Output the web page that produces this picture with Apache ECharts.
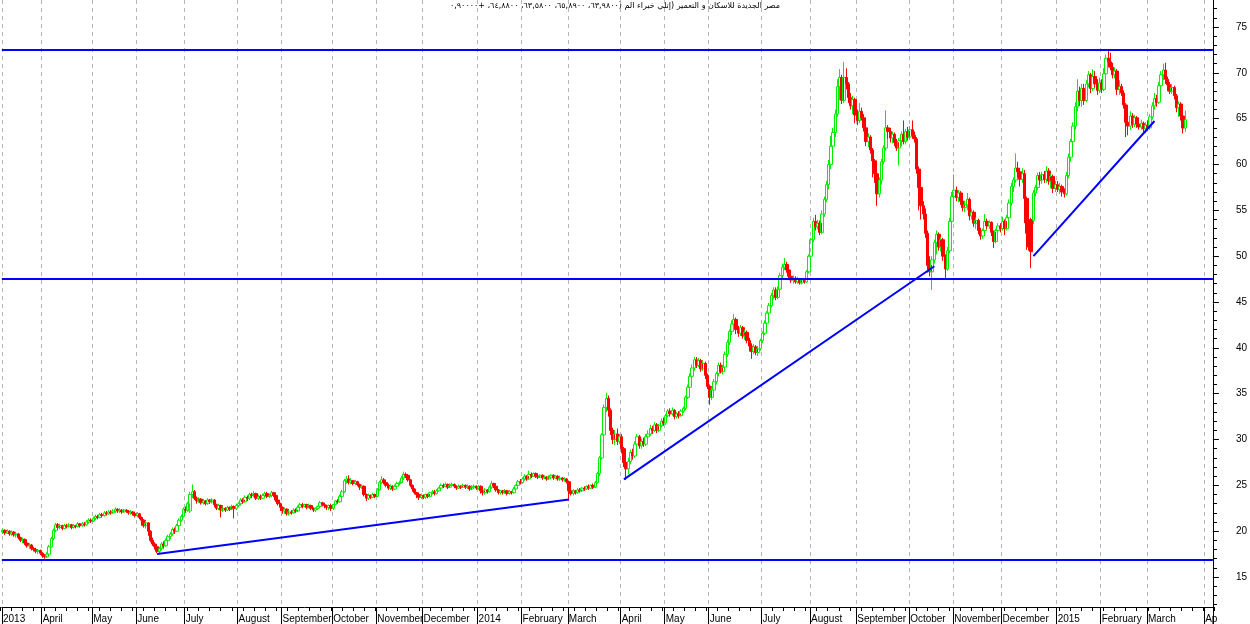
<!DOCTYPE html>
<html><head><meta charset="utf-8">
<script src="https://cdn.jsdelivr.net/npm/echarts@6/dist/echarts.min.js"></script>
<style>html,body{margin:0;padding:0;background:#fff}#c{width:1250px;height:624px}</style>
</head><body><div id="c"></div>
<script>
// ---- DATA: daily candles per month, each row [open, close, low, high] ----
const m1303=[[19.9,20.1,19.7,20.3],[20.1,19.8,19.6,20.2],[19.8,20.0,19.7,20.2],[20.0,19.7,19.5,20.1],[19.7,19.9,19.5,20.1],[19.9,19.6,19.4,20.0],[19.6,19.7,19.3,19.9],[19.7,19.3,19.1,19.8],[19.3,19.0,18.8,19.4],[19.0,19.1,18.7,19.3],[19.1,18.7,18.5,19.2],[18.7,18.4,18.2,18.8],[18.4,18.5,18.1,18.7],[18.5,18.1,17.9,18.6],[18.1,18.0,17.8,18.3],[18.0,17.8,17.6,18.2],[17.8,17.9,17.5,18.0],[17.9,17.6,17.4,18.0]];
const m1304=[[17.6,17.3,17.1,17.7],[17.3,17.2,17.0,17.5],[17.2,17.5,17.1,17.7],[17.5,18.3,17.4,18.5],[18.3,19.2,18.2,19.4],[19.2,20.1,19.0,20.3],[20.1,20.7,19.9,20.9],[20.7,20.4,20.2,20.9],[20.4,20.6,20.2,20.8],[20.6,20.3,20.1,20.7],[20.3,20.6,20.2,20.8],[20.6,20.5,20.3,20.8],[20.5,20.7,20.4,20.9],[20.7,20.4,20.2,20.8],[20.4,20.6,20.3,20.8],[20.6,20.5,20.3,20.7],[20.5,20.8,20.4,21.0],[20.8,20.6,20.4,20.9],[20.6,20.8,20.5,21.0],[20.8,20.7,20.5,21.0],[20.7,21.0,20.6,21.2],[21.0,21.2,20.8,21.4],[21.2,21.1,20.9,21.4]];
const m1305=[[21.1,21.4,21.0,21.6],[21.4,21.6,21.2,21.8],[21.6,21.5,21.3,21.8],[21.5,21.8,21.4,22.0],[21.8,21.7,21.5,22.0],[21.7,22.0,21.6,22.2],[22.0,21.9,21.7,22.2],[21.9,22.1,21.8,22.3],[22.1,22.0,21.8,22.3],[22.0,22.2,21.9,22.4],[22.2,22.4,22.0,22.6],[22.4,22.2,22.0,22.5],[22.2,22.3,22.0,22.5],[22.3,22.1,21.9,22.4],[22.1,22.3,22.0,22.4],[22.3,22.2,22.0,22.4],[22.2,22.0,21.8,22.3],[22.0,22.1,21.8,22.3],[22.1,21.9,21.7,22.2],[21.9,21.7,21.5,22.0]];
const m1306=[[21.7,21.9,21.5,22.1],[21.9,21.5,21.3,22.0],[21.5,21.2,20.6,21.6],[21.2,20.6,20.4,21.3],[20.6,20.9,20.3,21.1],[20.9,20.0,19.5,21.0],[20.0,19.0,18.8,20.1],[19.0,18.6,18.4,19.3],[18.6,18.3,18.0,18.8],[18.3,17.8,17.6,18.4],[17.8,18.1,17.6,18.3],[18.1,18.6,17.9,18.8],[18.6,18.4,18.1,18.9],[18.4,19.0,18.3,19.2],[19.0,19.4,18.8,19.6],[19.4,19.7,19.1,19.9],[19.7,20.2,19.5,20.4],[20.2,20.0,19.7,20.4],[20.0,20.6,19.9,20.8],[20.6,21.2,20.4,21.4],[21.2,21.6,21.0,21.8],[21.6,22.4,21.5,22.6]];
const m1307=[[22.4,22.3,22.0,22.7],[22.3,23.0,22.1,23.2],[22.2,24.0,22.0,24.3],[24.0,24.3,23.6,25.1],[24.3,23.6,23.4,24.5],[23.6,23.3,23.0,23.8],[23.3,23.5,23.1,23.7],[23.5,23.1,22.9,23.6],[23.1,23.3,22.9,23.5],[23.3,23.0,22.8,23.4],[23.0,23.4,22.9,23.6],[23.4,23.2,23.0,23.5],[23.2,23.4,23.0,23.6],[23.4,22.9,22.6,23.5],[22.9,22.5,22.3,23.0],[22.5,22.8,22.3,23.0],[22.8,22.3,21.5,22.9],[22.3,22.5,22.1,22.7],[22.5,22.3,22.1,22.6],[22.3,22.6,22.2,22.8],[22.6,22.4,22.2,22.7],[22.4,22.7,22.3,22.9],[22.7,22.5,21.4,22.8],[22.5,22.8,22.3,23.0]];
const m1308=[[22.8,23.0,22.6,23.2],[23.0,23.4,22.8,23.6],[23.4,23.2,23.0,23.6],[23.2,23.7,23.1,23.9],[23.7,23.6,23.3,23.9],[23.6,24.0,23.4,24.2],[24.0,23.9,23.6,24.2],[23.9,24.1,23.7,24.4],[24.1,23.6,23.4,24.2],[23.6,23.8,23.4,24.0],[23.8,23.6,23.4,24.0],[23.6,23.9,23.5,24.1],[23.9,24.1,23.7,24.3],[24.1,23.8,23.6,24.3],[23.8,23.9,23.6,24.1],[23.9,24.2,23.7,24.4],[24.2,23.9,23.7,24.3],[23.9,23.4,23.2,24.0],[23.4,23.0,22.8,23.5],[23.0,22.6,22.2,23.1]];
const m1309=[[22.6,22.2,21.9,22.7],[22.2,22.4,21.9,22.6],[22.4,21.9,21.7,22.5],[21.9,22.1,21.7,22.3],[22.1,22.0,21.8,22.3],[22.0,22.3,21.9,22.5],[22.3,22.2,22.0,22.5],[22.2,22.6,22.1,22.8],[22.6,22.9,22.4,23.1],[22.9,22.7,22.5,23.1],[22.7,22.9,22.6,23.0],[22.9,22.6,22.4,23.0],[22.6,22.8,22.5,23.0],[22.8,22.5,22.3,22.9],[22.5,22.3,22.1,22.6],[22.3,22.5,22.1,22.6],[22.5,22.7,22.3,22.8],[22.7,23.1,22.6,23.3],[23.1,22.9,22.7,23.2],[22.9,22.8,22.5,23.1],[22.8,22.6,22.3,22.9],[22.6,22.8,22.3,22.9],[22.8,22.5,22.2,23.0]];
const m1310=[[22.5,22.9,22.3,23.0],[22.9,23.3,22.8,23.4],[23.3,23.2,23.0,23.5],[23.2,23.8,23.1,24.0],[23.8,24.3,23.6,24.5],[24.3,25.5,24.2,25.7],[25.5,25.7,25.2,26.0],[25.7,25.3,25.1,26.1],[25.3,25.5,25.1,25.8],[25.5,25.2,25.0,25.6],[25.2,25.4,25.0,25.6],[25.4,25.1,24.9,25.5],[25.1,24.8,24.5,25.2],[24.8,24.9,24.6,25.1],[24.9,24.0,23.8,25.0],[24.0,23.6,23.3,24.1],[23.6,23.9,23.4,24.1],[23.9,23.7,23.5,24.0],[23.7,24.0,23.6,24.2],[24.0,23.8,23.6,24.1]];
const m1311=[[23.8,24.5,23.7,24.7],[24.5,25.3,24.4,25.5],[25.3,25.6,25.1,26.0],[25.6,25.3,25.1,25.8],[25.3,25.0,24.8,25.4],[25.0,24.7,24.5,25.2],[24.7,24.9,24.5,25.1],[24.9,24.6,24.4,25.0],[24.6,24.9,24.5,25.1],[24.9,25.2,24.8,25.4],[25.2,25.3,25.0,25.5],[25.3,25.8,25.2,26.0],[25.8,26.2,25.6,26.5],[26.2,26.1,25.8,26.4],[26.1,25.6,25.4,26.2],[25.6,25.0,24.8,25.7],[25.0,24.6,24.3,25.1],[24.6,24.2,24.0,24.7],[24.2,24.0,23.6,24.3],[24.0,23.7,23.4,24.1],[23.7,23.9,23.5,24.1]];
const m1312=[[23.9,23.7,23.5,24.0],[23.7,24.0,23.5,24.1],[24.0,23.8,23.6,24.1],[23.8,24.2,23.7,24.3],[24.2,24.3,24.0,24.5],[24.3,24.1,23.9,24.5],[24.1,24.4,24.0,24.6],[24.4,24.7,24.3,24.8],[24.7,25.0,24.5,25.2],[25.0,24.9,24.7,25.2],[24.9,25.1,24.8,25.3],[25.1,24.8,24.6,25.2],[24.8,25.0,24.7,25.2],[25.0,25.1,24.8,25.3],[25.1,24.9,24.7,25.2],[24.9,24.7,24.5,25.0],[24.7,24.9,24.6,25.1],[24.9,24.8,24.6,25.0],[24.8,25.0,24.7,25.2],[25.0,24.8,24.6,25.1],[24.8,24.9,24.6,25.1],[24.9,24.6,24.4,25.0],[24.6,24.8,24.5,25.0],[24.8,24.9,24.6,25.1],[24.9,24.7,24.5,25.0]];
const m1401=[[24.7,24.9,24.5,25.0],[24.9,24.4,24.1,25.0],[24.4,24.2,23.9,24.5],[24.2,24.5,24.0,24.7],[24.5,24.3,24.1,24.6],[24.3,24.8,24.2,25.0],[24.8,25.2,24.6,25.5],[25.2,24.9,24.7,25.3],[24.9,24.5,24.3,25.0],[24.5,24.2,24.0,24.6],[24.2,24.4,24.0,24.5],[24.4,24.2,24.0,24.5],[24.2,24.4,24.1,24.6],[24.4,24.1,23.9,24.5],[24.1,24.3,24.0,24.5],[24.3,24.2,24.0,24.4],[24.2,24.6,24.1,24.8],[24.6,25.0,24.5,25.1],[25.0,25.4,24.9,25.6],[25.4,25.3,25.1,25.7]];
const m1402=[[25.3,25.7,25.2,25.9],[25.7,26.0,25.5,26.2],[26.0,25.7,25.5,26.1],[25.7,26.2,25.6,26.6],[26.2,26.0,25.8,26.4],[26.0,26.3,25.9,26.4],[26.3,26.0,25.8,26.4],[26.0,25.9,25.7,26.2],[25.9,26.1,25.8,26.2],[26.1,25.8,25.6,26.2],[25.8,25.9,25.7,26.1],[25.9,25.7,25.5,26.0],[25.7,25.9,25.6,26.1],[25.9,26.1,25.8,26.2],[26.1,25.8,25.6,26.2],[25.8,26.0,25.7,26.1],[26.0,25.7,25.5,26.1],[25.7,25.8,25.5,26.0],[25.8,25.6,25.4,25.9],[25.6,25.7,25.4,25.9],[25.7,25.4,25.2,25.8]];
const m1403=[[25.4,24.4,23.3,25.5],[24.4,24.1,23.9,24.6],[24.1,24.4,23.9,24.6],[24.4,24.2,24.0,24.5],[24.2,24.5,24.1,24.7],[24.5,24.4,24.2,24.7],[24.4,24.7,24.3,24.8],[24.7,24.6,24.4,24.9],[24.6,24.9,24.5,25.0],[24.9,24.7,24.5,25.1],[24.7,25.0,24.6,25.1],[25.0,24.8,24.6,25.2],[24.8,25.3,24.7,25.5],[25.3,26.3,25.2,26.5],[26.3,28.0,26.0,28.2],[28.0,30.5,27.8,30.7],[30.5,33.5,30.3,33.8],[33.5,34.5,33.0,35.1],[34.5,33.2,32.5,34.8],[33.2,31.0,30.5,33.4],[31.0,30.0,29.5,31.3],[30.0,30.6,29.4,31.0],[30.6,29.8,29.4,31.2],[29.8,30.3,29.5,30.6]];
const m1404=[[30.3,29.0,28.5,30.6],[29.0,27.5,27.0,29.2],[27.5,26.8,25.6,27.8],[26.8,27.6,26.2,28.0],[27.6,28.6,27.3,28.9],[28.6,28.2,27.8,29.0],[28.2,29.5,28.0,29.8],[29.5,30.3,29.2,30.6],[30.3,29.3,29.0,30.5],[29.3,29.8,29.0,30.1],[29.8,29.5,29.2,30.2],[29.5,30.3,29.3,30.6],[30.3,30.6,30.0,31.0],[30.6,31.2,30.4,31.6],[31.2,31.0,30.6,31.5],[31.0,31.6,30.8,31.9],[31.6,31.0,30.7,31.8],[31.0,31.5,30.8,31.7],[31.5,32.0,31.3,32.3],[32.0,31.8,31.5,32.4]];
const m1405=[[31.8,32.6,31.6,32.8],[32.6,33.1,32.4,33.3],[33.1,32.8,32.5,33.4],[32.8,33.2,32.6,33.5],[33.2,32.5,32.2,33.3],[32.5,32.8,32.3,33.0],[32.8,32.6,32.3,33.1],[32.6,33.1,32.5,33.3],[33.1,33.4,32.9,33.6],[33.4,34.6,33.2,34.8],[34.6,35.7,34.4,36.0],[35.7,36.9,35.5,37.2],[36.9,37.8,36.6,38.2],[37.8,38.7,37.5,39.0],[38.7,38.1,37.8,39.0],[38.1,38.6,37.9,38.9],[38.6,37.7,37.4,38.8],[37.7,38.3,37.5,38.6],[38.3,37.0,36.6,38.5],[37.0,35.8,35.5,37.2]];
const m1406=[[35.8,34.6,33.8,36.0],[34.6,35.4,34.3,35.7],[35.4,36.3,35.1,36.6],[36.3,37.2,36.0,37.4],[37.2,38.1,36.9,38.4],[38.1,37.4,37.2,38.4],[37.4,37.9,37.1,38.1],[37.9,39.3,37.7,39.6],[39.3,40.6,39.0,40.9],[40.6,41.8,40.3,42.0],[41.8,42.6,41.4,43.0],[42.6,43.1,42.0,43.7],[43.1,42.0,41.5,43.3],[42.0,41.6,41.2,42.4],[41.6,42.2,41.3,42.5],[42.2,41.3,41.0,42.4],[41.3,41.7,40.9,42.0],[41.7,40.8,40.5,41.9],[40.8,40.2,39.6,41.1],[40.2,39.6,38.8,40.5],[39.6,40.1,39.3,40.4],[40.1,39.5,39.2,40.3],[39.5,39.9,39.1,40.2],[39.9,40.8,39.7,41.0]];
const m1407=[[40.8,41.6,40.5,41.8],[41.6,42.7,41.4,43.0],[42.7,43.8,42.4,44.0],[43.8,44.6,43.5,44.9],[44.6,45.7,44.4,46.0],[45.7,46.3,45.3,46.6],[46.3,45.5,45.2,46.6],[45.5,46.4,45.3,46.7],[46.4,47.9,46.2,48.2],[47.9,48.8,47.6,49.2],[48.8,49.1,48.5,49.8],[49.1,48.5,48.2,49.4],[48.5,47.8,47.5,48.8],[47.8,47.4,47.1,48.0],[47.4,47.6,47.0,47.9],[47.6,47.2,47.0,47.8],[47.2,47.5,47.0,47.7],[47.5,47.1,46.9,47.6],[47.1,47.4,46.9,47.6],[47.4,47.2,47.0,47.6],[47.2,48.3,47.1,48.5],[48.3,50.0,48.1,50.2]];
const m1408=[[50.0,51.8,49.8,52.0],[51.8,53.8,51.5,54.2],[53.8,53.2,52.8,54.5],[53.2,53.6,52.9,54.0],[53.6,52.6,52.3,53.9],[52.6,54.6,52.4,55.0],[54.6,56.2,54.3,56.5],[56.2,57.8,55.9,58.2],[57.8,60.0,57.3,60.5],[60.0,62.0,59.5,63.1],[62.0,63.5,61.5,64.0],[63.5,65.5,63.0,66.0],[65.5,68.5,65.2,69.3],[68.5,69.5,67.0,70.4],[69.5,67.0,66.6,69.8],[67.0,69.5,66.7,71.2],[69.5,68.8,68.2,70.5],[68.8,67.3,66.7,69.0],[67.3,66.4,66.0,67.8],[66.4,67.1,65.5,67.5],[67.1,65.4,64.5,67.3]];
const m1409=[[65.4,64.8,64.3,66.0],[64.8,65.8,64.5,66.7],[65.8,65.1,64.8,66.2],[65.1,64.0,63.6,65.5],[64.0,62.5,62.0,64.2],[62.5,63.0,61.9,63.4],[63.0,61.6,61.2,63.2],[61.6,60.4,58.6,61.8],[60.4,59.0,58.0,60.6],[59.0,56.8,55.5,59.2],[56.8,58.3,56.4,58.6],[58.3,60.3,57.8,60.6],[60.3,61.8,60.0,62.1],[61.8,64.0,61.5,65.9],[64.0,63.6,62.8,64.3],[63.6,62.9,62.4,64.0],[62.9,63.3,62.3,63.6],[63.3,62.4,62.0,63.5],[62.4,61.8,61.5,62.8],[61.8,62.6,59.9,62.9],[62.6,63.3,62.0,63.6],[63.3,62.5,62.2,64.8],[62.5,63.6,62.2,63.9],[63.6,63.0,62.6,64.1]];
const m1410=[[63.0,63.8,62.8,64.2],[63.8,63.2,62.8,64.8],[63.2,62.8,62.4,63.6],[62.8,59.5,59.0,63.0],[59.5,57.5,55.0,59.8],[57.5,55.5,54.0,57.8],[55.5,54.6,54.0,56.0],[54.6,52.5,52.0,55.2],[52.5,49.0,48.2,52.8],[49.0,48.3,47.8,50.0],[48.3,49.6,46.3,50.0],[49.6,51.5,49.2,51.8],[51.5,52.4,50.2,52.8],[52.4,51.0,50.6,52.6],[51.0,51.8,50.5,52.1],[51.8,50.0,49.5,52.0],[50.0,48.6,47.5,50.2],[48.6,50.6,48.4,51.0],[50.6,53.8,50.3,54.2],[53.8,56.5,53.5,57.0]];
const m1411=[[56.5,57.2,56.0,58.9],[57.2,56.4,56.0,57.6],[56.4,56.9,55.9,57.2],[56.9,56.0,55.6,57.1],[56.0,55.3,54.9,56.3],[55.3,55.6,54.8,56.0],[55.6,56.2,55.0,56.9],[56.2,54.4,53.9,56.4],[54.4,54.8,54.0,55.2],[54.8,53.6,53.2,55.0],[53.6,53.9,53.0,54.2],[53.9,52.8,52.4,54.1],[52.8,52.2,51.8,53.1],[52.2,52.8,51.9,53.0],[52.8,53.8,52.6,54.6],[53.8,53.3,53.0,54.1],[53.3,53.7,53.0,53.9],[53.7,52.6,52.2,53.8],[52.6,51.6,50.9,52.8],[51.6,52.8,51.4,53.0],[52.8,53.3,52.5,53.6],[53.3,53.0,52.6,53.6]];
const m1412=[[53.0,53.8,52.8,54.3],[53.8,53.0,52.3,54.0],[53.0,54.2,52.8,54.5],[54.2,55.8,53.8,56.2],[55.8,57.6,55.5,58.0],[57.6,58.3,57.0,58.6],[58.3,59.6,58.0,61.2],[59.6,59.2,58.6,60.3],[59.2,58.4,57.6,59.6],[58.4,59.0,58.0,59.6],[59.0,56.3,53.6,59.4],[56.3,52.5,50.7,56.5],[52.5,51.0,50.6,54.0],[54.0,50.5,48.7,54.2],[53.9,56.9,53.5,57.2],[56.9,57.5,56.5,57.8],[57.5,58.8,57.2,59.1],[58.8,58.3,57.8,59.2],[58.3,58.9,57.9,59.2],[58.9,58.4,58.0,59.3],[58.4,59.3,58.0,59.8],[59.3,58.2,57.8,59.6],[58.2,58.7,57.4,59.0],[58.7,57.4,56.9,58.9],[57.4,57.8,57.0,58.2]];
const m1501=[[57.8,57.3,57.0,58.2],[57.3,57.6,56.8,58.0],[57.6,57.0,56.5,57.8],[57.0,56.8,56.4,57.4],[56.8,58.8,56.6,59.2],[58.8,60.8,58.5,61.2],[60.8,62.5,60.3,62.8],[62.5,64.2,62.0,64.6],[64.2,66.3,63.8,66.8],[66.3,68.0,65.8,69.3],[68.0,67.0,66.4,68.5],[67.0,68.3,66.3,68.8],[68.3,67.0,66.5,68.8],[67.0,68.8,66.8,69.2],[68.8,69.8,68.4,70.2],[69.8,68.3,67.8,70.0],[68.3,69.6,68.0,70.4],[69.6,68.8,68.4,70.2],[68.8,68.1,67.6,69.3],[68.1,68.9,67.8,69.5]];
const m1502=[[68.9,68.2,67.8,69.3],[68.2,69.9,68.0,70.5],[69.9,71.6,69.6,72.0],[71.6,71.2,70.6,72.6],[71.2,70.6,70.3,72.2],[70.6,69.8,69.4,71.1],[69.8,70.2,69.4,70.6],[70.2,68.2,67.6,70.4],[68.2,68.5,67.6,69.2],[68.5,67.8,67.5,68.8],[67.8,66.5,66.1,68.1],[66.5,64.6,63.0,66.7],[64.6,64.2,63.2,65.4],[64.2,65.3,63.8,65.8],[65.3,64.4,64.0,65.6],[64.4,65.1,64.1,65.4],[65.1,64.4,64.0,65.3],[64.4,64.1,63.8,64.8],[64.1,64.5,63.8,64.9],[64.5,63.9,63.5,64.7],[63.9,64.3,63.4,64.6]];
const m1503=[[64.3,64.0,63.7,64.8],[64.0,65.2,63.8,65.5],[65.2,66.4,64.9,66.8],[66.4,67.2,66.0,67.8],[67.2,66.8,66.3,67.6],[66.8,68.6,66.6,69.0],[68.6,69.8,68.3,70.2],[69.8,70.3,69.2,71.0],[70.3,69.3,68.8,71.1],[69.3,68.7,68.0,69.6],[68.7,68.0,67.7,69.0],[68.0,68.4,67.7,68.8],[68.4,67.5,67.1,68.6],[67.5,66.2,65.7,67.7],[66.2,66.6,65.2,66.9],[66.6,65.3,64.8,66.8],[65.3,63.98,63.4,65.6],[63.98,64.88,63.58,65.89]];
const m1504=[];

const monthKeys=['2013-03','2013-04','2013-05','2013-06','2013-07','2013-08','2013-09','2013-10','2013-11','2013-12','2014-01','2014-02','2014-03','2014-04','2014-05','2014-06','2014-07','2014-08','2014-09','2014-10','2014-11','2014-12','2015-01','2015-02','2015-03','2015-04'];
const monthLabels=['2013','April','May','June','July','August','September','October','November','December','2014','February','March','April','May','June','July','August','September','October','November','December','2015','February','March','Ap'];
const monthCandles=[m1303,m1304,m1305,m1306,m1307,m1308,m1309,m1310,m1311,m1312,m1401,m1402,m1403,m1404,m1405,m1406,m1407,m1408,m1409,m1410,m1411,m1412,m1501,m1502,m1503,m1504];
// trading days without candles yet (right-hand margin of the chart)
const emptyDays={'2015-03':8,'2015-04':4};

const levels=[72.5,47.5,16.9];
// trend lines: [monthKey, dayIndex, price] -> [monthKey, dayIndex, price]
const trendLines=[
  [['2013-06',9,17.5],['2014-03',0,23.45]],
  [['2014-04',1,25.65],['2014-10',11,48.9]],
  [['2014-12',14,50.0],['2015-03',3,64.75]]
];
const yTickLabels=[15,20,25,30,35,40,45,50,55,60,65,70,75];
const titleText='مصر الجديدة للاسكان و التعمير (إتلي خبراء الم (٦٣,٩٨٠٠، ٦٥,٨٩٠٠، ٦٣,٥٨٠٠، ٦٤,٨٨٠٠، +٠,٩٠٠٠٠';

// ---- build ----
const cats=[],candles=[],labelAt={};
monthKeys.forEach((k,i)=>{
  const n=monthCandles[i].length+(emptyDays[k]||0);
  for(let j=0;j<n;j++){
    const c=k+'-'+j;
    if(j===0) labelAt[c]=monthLabels[i];
    cats.push(c);
    if(j<monthCandles[i].length) candles.push(monthCandles[i][j]);
  }
});
const isMonthStart=(idx,val)=>labelAt[cats[idx]]!==undefined;
const YMIN=11.73,YMAX=77.95;
const minorY=[];for(let v=12;v<=77;v++) if(v%5) minorY.push(v);

const ml=[];
levels.forEach(v=>ml.push({yAxis:v}));
trendLines.forEach(t=>ml.push([{coord:[t[0][0]+'-'+t[0][1],t[0][2]]},{coord:[t[1][0]+'-'+t[1][1],t[1][2]]}]));

const FONT='"Liberation Sans", Arial, sans-serif';
const GRID={left:0,right:36,top:0,bottom:17};
const chart=echarts.init(document.getElementById('c'),null,{renderer:'canvas'});
chart.setOption({
  animation:false,
  backgroundColor:'#fff',
  grid:[Object.assign({},GRID),Object.assign({},GRID)],
  graphic:[{type:'text',x:615,y:2,silent:true,style:{text:'\u202B'+titleText+'\u202C',font:'8px "DejaVu Sans"',fill:'#000',align:'center',verticalAlign:'top'}}],
  xAxis:[
    {type:'category',gridIndex:0,data:cats,boundaryGap:true,
     axisLine:{show:true,lineStyle:{color:'#000',width:1}},
     axisTick:{show:true,interval:isMonthStart,length:17,lineStyle:{color:'#000'}},
     axisLabel:{show:true,interval:isMonthStart,formatter:v=>labelAt[v]||'',align:'left',margin:7,fontSize:10,color:'#000',fontFamily:FONT},
     splitLine:{show:true,interval:isMonthStart,lineStyle:{color:'#b4b4b4',width:1,type:[4,4]}}},
    {type:'category',gridIndex:1,data:cats,boundaryGap:true,
     axisLine:{show:false},
     axisTick:{show:true,interval:(i)=>i%5===0,length:4,lineStyle:{color:'#000'}},
     axisLabel:{show:false},splitLine:{show:false}}
  ],
  yAxis:[
    {type:'value',gridIndex:0,position:'right',min:YMIN,max:YMAX,
     axisLine:{show:true,lineStyle:{color:'#000'}},
     axisTick:{show:true,customValues:yTickLabels,length:6,lineStyle:{color:'#000'}},
     axisLabel:{show:true,customValues:yTickLabels,margin:23,fontSize:10,color:'#000',fontFamily:FONT},
     splitLine:{show:false}},
    {type:'value',gridIndex:1,position:'right',min:YMIN,max:YMAX,
     axisLine:{show:false},
     axisTick:{show:true,customValues:minorY,length:3,lineStyle:{color:'#000'}},
     axisLabel:{show:false},splitLine:{show:false}}
  ],
  series:[{
    type:'candlestick',xAxisIndex:0,yAxisIndex:0,data:candles,barWidth:3,
    itemStyle:{color:'rgba(255,255,255,0)',color0:'#ff0000',borderColor:'#00ee00',borderColor0:'#ff0000',borderWidth:1},
    markLine:{silent:true,symbol:['none','none'],label:{show:false},animation:false,
      lineStyle:{color:'#0000ff',width:2,type:'solid'},emphasis:{disabled:true},data:ml}
  }]
});
</script></body></html>
